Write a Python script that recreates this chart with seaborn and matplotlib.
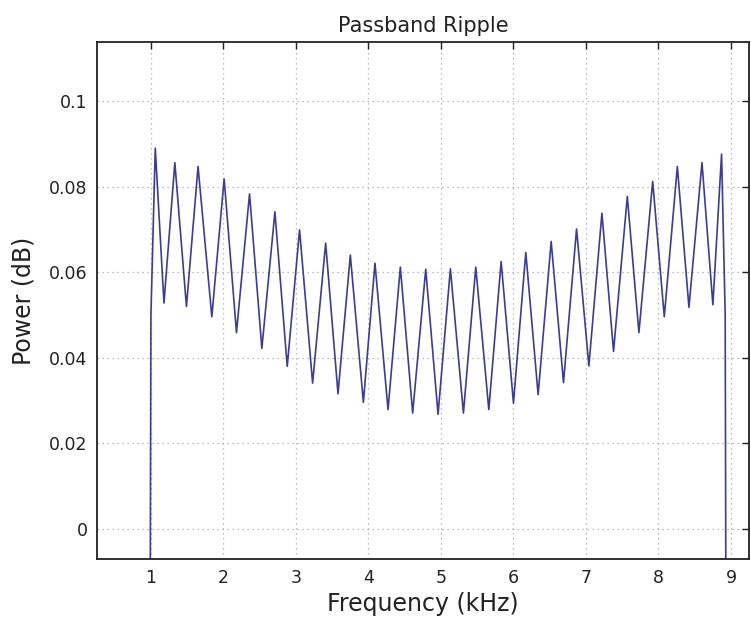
import numpy as np
import pandas as pd
import matplotlib
matplotlib.use("Agg")
import matplotlib.pyplot as plt
import seaborn as sns

# ripple maxima / minima (kHz, dB)
peak_freq = [1.06, 1.33, 1.65, 2.01, 2.36, 2.71, 3.05, 3.41, 3.75, 4.09, 4.44, 4.79,
             5.13, 5.48, 5.83, 6.17, 6.52, 6.87, 7.22, 7.57, 7.92, 8.26, 8.60, 8.87]
peak_val = [0.0890, 0.0856, 0.0847, 0.0818, 0.0783, 0.0741, 0.0699, 0.0668, 0.0640, 0.0621,
            0.0612, 0.0607, 0.0608, 0.0612, 0.0625, 0.0646, 0.0672, 0.0701, 0.0738, 0.0777,
            0.0812, 0.0847, 0.0856, 0.0876]
trough_freq = [1.18, 1.49, 1.84, 2.18, 2.53, 2.88, 3.23, 3.58, 3.93, 4.27, 4.61, 4.96,
               5.31, 5.66, 6.00, 6.34, 6.69, 7.04, 7.38, 7.73, 8.08, 8.42, 8.75]
trough_val = [0.0528, 0.0520, 0.0496, 0.0459, 0.0422, 0.0380, 0.0341, 0.0316, 0.0296, 0.0279,
              0.0271, 0.0268, 0.0271, 0.0279, 0.0294, 0.0314, 0.0342, 0.0381, 0.0415, 0.0459,
              0.0496, 0.0518, 0.0524]
# band edges (steep skirts dropping below the axis)
edge_start_freq = [0.99, 1.00]
edge_start_val = [-0.02, 0.050]
edge_end_freq = [8.92, 8.93]
edge_end_val = [0.050, -0.02]

x_ticks = [1, 2, 3, 4, 5, 6, 7, 8, 9]
y_ticks = [0, 0.02, 0.04, 0.06, 0.08, 0.1]
y_ticklabels = ["0", "0.02", "0.04", "0.06", "0.08", "0.1"]

# interleave maxima and minima into one trace
freq = list(edge_start_freq)
power = list(edge_start_val)
for i in range(len(peak_freq)):
    freq.append(peak_freq[i]); power.append(peak_val[i])
    if i < len(trough_freq):
        freq.append(trough_freq[i]); power.append(trough_val[i])
freq += edge_end_freq
power += edge_end_val
df = pd.DataFrame({"freq": freq, "power": power})

sns.set_style("white")
plt.rcParams["font.family"] = ["DejaVu Sans"]

fig = plt.figure(figsize=(7.51, 6.26), dpi=100)
ax = fig.add_axes([0.1295, 0.107, 0.868, 0.826])

sns.lineplot(data=df, x="freq", y="power", sort=False, color="#3b3b9e",
             linewidth=1.2, ax=ax)

ax.set_xlim(0.26, 9.25)
ax.set_ylim(-0.007, 0.1138)
ax.set_xticks(x_ticks)
ax.set_xticklabels([str(t) for t in x_ticks])
ax.set_yticks(y_ticks)
ax.set_yticklabels(y_ticklabels)

ax.grid(True, color="#a8a8a8", linestyle=(0, (1, 3)), linewidth=0.9)
ax.tick_params(direction="in", length=5, width=1, top=True, right=True,
               labelsize=12.5, colors="#222222", pad=7)
for s in ax.spines.values():
    s.set_color("#222222")
    s.set_linewidth(1.3)

ax.set_title("Passband Ripple", fontsize=15, color="#222222", pad=7)
ax.set_xlabel("Frequency (kHz)", fontsize=17, color="#222222", labelpad=4)
ax.set_ylabel("Power (dB)", fontsize=17, color="#222222", labelpad=10)

fig.savefig("out.png", dpi=100)
